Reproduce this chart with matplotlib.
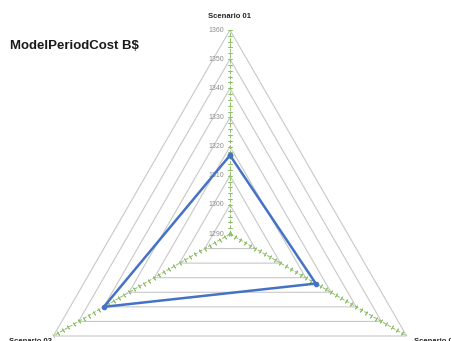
import numpy as np
import matplotlib.pyplot as plt

categories = ["Scenario 01", "Scenario 02", "Scenario 03"]
costs = [1317, 1324, 1340]
r_min, r_max = 1290, 1360
grid_levels = [1300, 1310, 1320, 1330, 1340, 1350, 1360]
tick_labels = ["1290", "1300", "1310", "1320", "1330", "1340", "1350", "1360"]

grid_col = "#c8c8c8"
axis_col = "#8fbf6a"
line_col = "#4472c4"

fig = plt.figure(figsize=(4.51, 3.41), dpi=100)
# square polar axes centred on the radar origin; it runs off the bottom of the figure
ax = fig.add_axes([26 / 451, -97 / 341, 408 / 451, 408 / 341], projection="polar")
ax.set_theta_zero_location("N")
ax.set_theta_direction(-1)
ax.set_ylim(r_min, r_max)
ax.grid(False)
ax.set_xticks([])
ax.set_yticks([])
ax.spines["polar"].set_visible(False)
ax.patch.set_visible(False)

angles = np.arange(len(categories)) * 2 * np.pi / len(categories)

# triangular gridlines
for lvl in grid_levels:
    ax.plot(np.append(angles, angles[0]), [lvl] * (len(angles) + 1),
            color=grid_col, lw=0.8, zorder=1)

# spokes with minor tick marks every 2
minor = np.arange(r_min, r_max + 1, 2)
for a in angles:
    ax.plot([a, a], [r_min, r_max], color=axis_col, lw=0.7, ls=(0, (4, 1.5)), zorder=2)
    rot = 90 - np.degrees(a)
    ax.plot([a] * len(minor), minor, ls="none", marker=(2, 2, rot),
            ms=3, mec=axis_col, mew=0.6, zorder=2)

# value labels along the top spoke
for v, lab in zip(range(r_min, r_max + 1, 10), tick_labels):
    ax.annotate(lab, (0, v), xytext=(-4, 0), textcoords="offset points",
                ha="right", va="center", fontsize=5, color="#8c8c8c",
                family="Liberation Sans")

ax.plot(np.append(angles, angles[0]), costs + [costs[0]], color=line_col,
        lw=1.8, marker="o", ms=3, zorder=3)

# category labels at the outer vertices
offsets = [(0, 10, "center"), (5, -4, "left"), (-1, -4, "right")]
for a, name, (dx, dy, ha) in zip(angles, categories, offsets):
    ax.annotate(name, (a, r_max), xytext=(dx, dy), textcoords="offset points",
                ha=ha, va="center", fontsize=5.5, fontweight="bold",
                color="#262626", family="Liberation Sans", annotation_clip=False)

fig.text(10 / 451, 1 - 46 / 341, "ModelPeriodCost B$", fontsize=9.5,
         fontweight="bold", color="#1a1a1a", family="Liberation Sans", va="center")

fig.savefig("out.png", dpi=100)
